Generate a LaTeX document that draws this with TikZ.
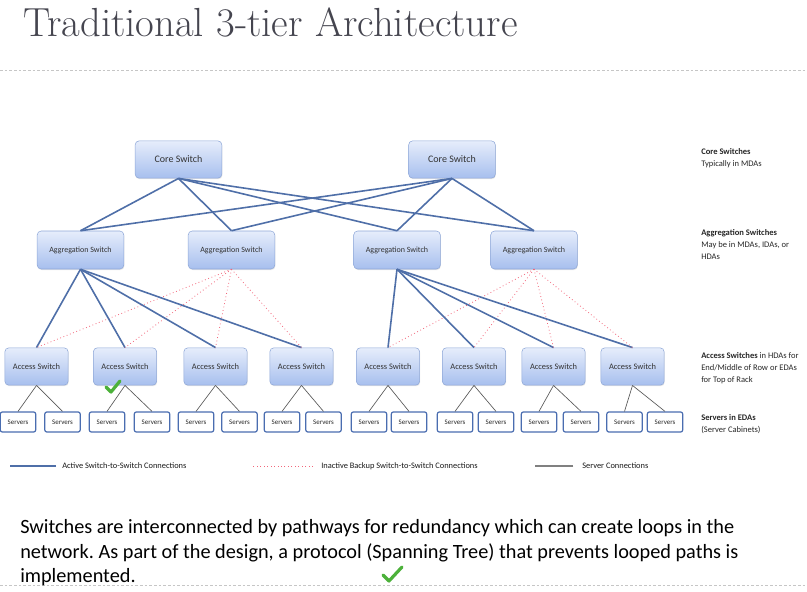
\documentclass[tikz,border=0pt]{standalone}
\usepackage{fontspec}
\setsansfont{Carlito}
\usetikzlibrary{positioning, shadows}
\definecolor{titlegray}{HTML}{45454F}
\definecolor{swtop}{HTML}{E6EDFB}
\definecolor{swbot}{HTML}{A7BFEE}
\definecolor{swborder}{HTML}{8FA8D8}
\definecolor{srvborder}{HTML}{4A6DB0}
\definecolor{activeblue}{HTML}{4F6FA8}
\definecolor{backupred}{HTML}{F2667A}
\definecolor{tickgreen}{HTML}{4CB13A}

\begin{document}
\begin{tikzpicture}[
  x=0.75pt, y=-0.75pt,
  switch/.style={draw=swborder, rounded corners=3pt, top color=swtop, bottom color=swbot, align=center, inner sep=0pt, text=black!80,
    drop shadow={opacity=0.2, shadow xshift=0.4pt, shadow yshift=-0.8pt}, font=\sffamily\fontsize{6}{7}\selectfont},
  core/.style={switch, minimum width=65pt, minimum height=28pt, font=\sffamily\fontsize{7.5}{9}\selectfont},
  agg/.style={switch, minimum width=65pt, minimum height=28.5pt},
  acc/.style={switch, minimum width=47.5pt, minimum height=28pt, font=\sffamily\fontsize{6.3}{7}\selectfont},
  srv/.style={draw=srvborder, line width=0.9pt, fill=white, rounded corners=1.5pt, minimum width=26.5pt, minimum height=15pt, inner sep=0pt, text=black!85, font=\sffamily\fontsize{5.2}{6}\selectfont},
  active/.style={draw=activeblue, line width=1.2pt},
  backup/.style={draw=backupred, dotted, line width=0.6pt},
  srvlink/.style={draw=black!65, line width=0.5pt},
  note/.style={anchor=north west, align=left, inner sep=0pt, text=black!85, font=\sffamily\fontsize{6.4}{9.2}\selectfont},
  legend/.style={anchor=west, inner sep=0pt, text=black!90, font=\sffamily\fontsize{6.3}{7}\selectfont},
  sep/.style={draw=gray!45, dash pattern=on 2pt off 1.5pt, line width=0.5pt},
  tick/.style={draw=tickgreen, line width=2.4pt, line cap=round, line join=round}
]
\useasboundingbox (0,0) rectangle (807,592);

% title and separators
\node[anchor=base west, inner sep=0pt, text=titlegray, font=\rmfamily\fontsize{30.5}{34}\selectfont] (title) at (23,37) {Traditional 3-tier Architecture};
\draw[sep] (0,70) -- (807,70);
\draw[sep] (0,585) -- (807,585);

% switches
\node[core] (core1) at (178.5,159.5) {Core Switch};
\node[core] (core2) at (452,159.5) {Core Switch};
\node[agg] (agg1) at (80.5,250) {Aggregation Switch};
\node[agg] (agg2) at (231.5,250) {Aggregation Switch};
\node[agg] (agg3) at (397,250) {Aggregation Switch};
\node[agg] (agg4) at (534,250) {Aggregation Switch};
\foreach \i/\x in {1/36.5, 2/125, 3/215.5, 4/301.5, 5/388, 6/474, 7/553.5, 8/632.5}
  \node[acc] (acc\i) at (\x,366.5) {Access Switch};

% servers
\foreach \i/\a/\b in {1/18/62.5, 2/107/152, 3/196/239.5, 4/282/323.5, 5/369/409, 6/455/496, 7/539/581, 8/624.5/665} {
  \node[srv] (srv\i-a) at (\a,422) {Servers};
  \node[srv] (srv\i-b) at (\b,422) {Servers};
  \draw[srvlink] (acc\i.south) -- (srv\i-a.north);
  \draw[srvlink] (acc\i.south) -- (srv\i-b.north);
}

% core to aggregation
\foreach \c in {core1, core2}
  \foreach \g in {agg1, agg2, agg3, agg4}
    \draw[active] (\c.south) -- (\g.north);

% aggregation to access
\foreach \k in {1,...,4} {
  \draw[active] (agg1.south) -- (acc\k.north);
  \draw[backup] (agg2.south) -- (acc\k.north);
}
\foreach \k in {5,...,8} {
  \draw[active] (agg3.south) -- (acc\k.north);
  \draw[backup] (agg4.south) -- (acc\k.north);
}

% tier notes
\node[note] (ncore) at (701,148) {\textbf{Core Switches}\\Typically in MDAs};
\node[note] (nagg) at (701,229) {\textbf{Aggregation Switches}\\May be in MDAs, IDAs, or\\HDAs};
\node[note] (nacc) at (701,352) {\textbf{Access Switches} in HDAs for\\End/Middle of Row or EDAs\\for Top of Rack};
\node[note] (nsrv) at (701,414) {\textbf{Servers in EDAs}\\(Server Cabinets)};

% legend
\node[legend] (lactive) at (62,466) {Active Switch-to-Switch Connections};
\node[legend] (lbackup) at (321,466) {Inactive Backup Switch-to-Switch Connections};
\node[legend] (lserver) at (582,466) {Server Connections};
\draw[active] ([xshift=-4.5pt]lactive.west) -- ++(-46,0);
\draw[backup] ([xshift=-6pt]lbackup.west) -- ++(-61,0);
\draw[draw=gray, line width=0.8pt] ([xshift=-6.5pt]lserver.west) -- ++(-38,0);

% checks
\draw[tick] (106,387) -- (111,392) -- (120,381);
\draw[tick] (383,575) -- (389,581) -- (402,567);

% summary
\node[anchor=north west, align=left, inner sep=0pt, font=\sffamily\fontsize{15.2}{18.6}\selectfont\frenchspacing] (summary) at (20,519)
  {Switches are interconnected by pathways for redundancy which can create loops in the\\
   network. As part of the design, a protocol (Spanning Tree) that prevents looped paths is\\
   implemented.};
\end{tikzpicture}
\end{document}
